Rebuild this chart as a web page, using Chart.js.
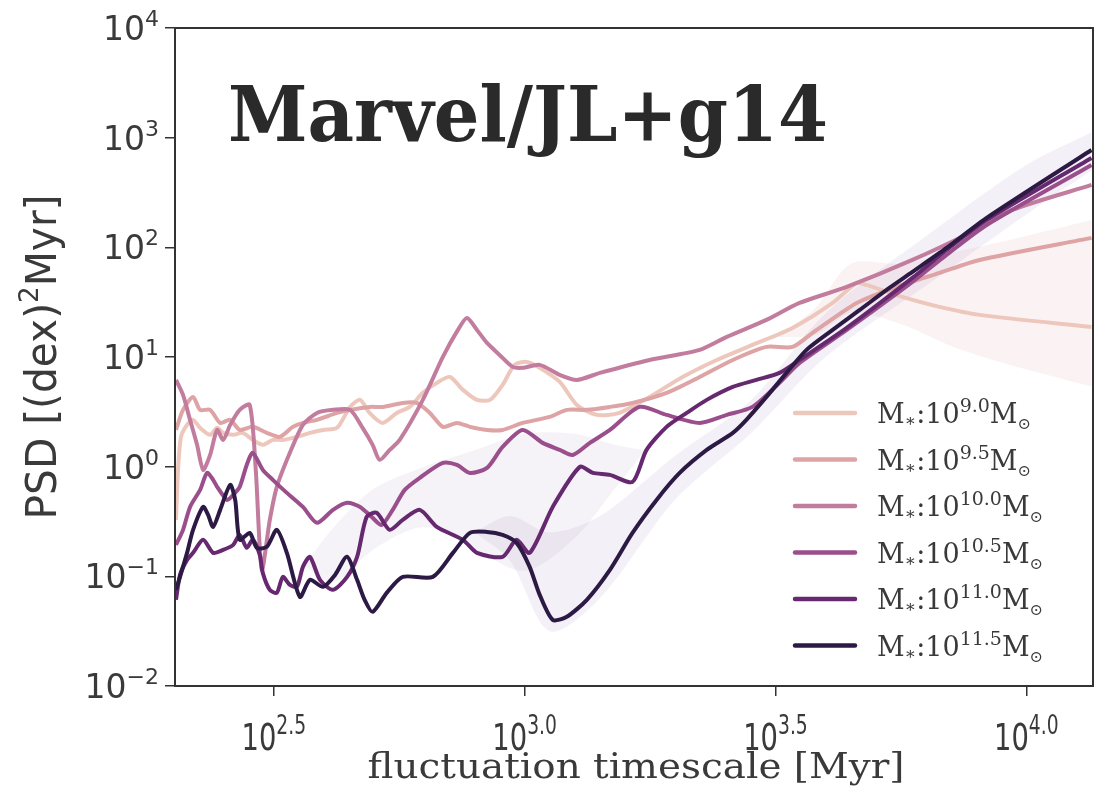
<!DOCTYPE html>
<html>
<head>
<meta charset="utf-8">
<script src="https://cdn.jsdelivr.net/npm/chart.js@4.4.1/dist/chart.umd.min.js"></script>
<style>
  html, body { margin: 0; padding: 0; background: #fff; }
  canvas { display: block; }
</style>
</head>
<body>
<canvas id="psdChart" width="1097" height="793"></canvas>
<script>
// series are [log10 timescale (Myr), log10 PSD] pairs
const massLabels = ["9.0", "9.5", "10.0", "10.5", "11.0", "11.5"];
const massColors = ["#edc7bc", "#dea3a5", "#c27c9d", "#9a4f8c", "#66296f", "#2d1a44"];

const psd90 = [[2.305,-0.485],[2.309,-0.029],[2.315,0.272],[2.327,0.381],[2.339,0.427],[2.353,0.354],[2.373,0.290],[2.387,0.354],[2.399,0.308],[2.419,0.290],[2.438,0.308],[2.458,0.244],[2.478,0.199],[2.498,0.244],[2.518,0.244],[2.546,0.272],[2.572,0.308],[2.598,0.335],[2.626,0.354],[2.652,0.545],[2.672,0.609],[2.691,0.490],[2.717,0.399],[2.745,0.490],[2.771,0.545],[2.797,0.673],[2.825,0.764],[2.851,0.818],[2.877,0.700],[2.905,0.609],[2.931,0.609],[2.956,0.745],[2.980,0.928],[3.004,0.955],[3.030,0.901],[3.070,0.773],[3.104,0.563],[3.144,0.472],[3.189,0.490],[3.249,0.636],[3.315,0.818],[3.383,0.973],[3.454,1.110],[3.534,1.265],[3.614,1.493],[3.662,1.675],[3.681,1.657],[3.753,1.548],[3.827,1.457],[3.907,1.384],[4.130,1.274]];
const psd95 = [[2.305,0.335],[2.319,0.518],[2.339,0.636],[2.353,0.518],[2.373,0.518],[2.393,0.399],[2.413,0.427],[2.432,0.335],[2.458,0.363],[2.486,0.308],[2.512,0.272],[2.538,0.363],[2.558,0.399],[2.586,0.427],[2.626,0.490],[2.652,0.518],[2.691,0.545],[2.717,0.545],[2.757,0.581],[2.785,0.581],[2.811,0.490],[2.837,0.363],[2.865,0.399],[2.891,0.363],[2.925,0.335],[2.956,0.335],[2.996,0.399],[3.050,0.454],[3.084,0.518],[3.124,0.518],[3.170,0.545],[3.215,0.581],[3.283,0.673],[3.349,0.818],[3.415,0.973],[3.482,1.092],[3.534,1.092],[3.574,1.220],[3.662,1.493],[3.741,1.639],[3.827,1.767],[3.907,1.885],[4.130,2.086]];
const psd100 = [[2.305,0.791],[2.319,0.654],[2.333,0.427],[2.347,0.199],[2.359,-0.029],[2.373,0.107],[2.387,0.335],[2.399,0.244],[2.413,0.381],[2.432,0.518],[2.452,0.563],[2.464,-0.029],[2.476,-0.941],[2.492,-0.485],[2.506,-0.184],[2.532,0.126],[2.558,0.381],[2.586,0.490],[2.618,0.518],[2.652,0.518],[2.677,0.354],[2.697,0.199],[2.711,0.062],[2.731,0.153],[2.751,0.244],[2.797,0.609],[2.837,1.001],[2.867,1.247],[2.885,1.356],[2.905,1.247],[2.925,1.128],[2.950,1.019],[2.976,0.910],[2.996,0.901],[3.030,0.928],[3.070,0.837],[3.104,0.791],[3.150,0.855],[3.249,0.973],[3.349,1.065],[3.403,1.183],[3.482,1.338],[3.548,1.493],[3.642,1.639],[3.773,1.885],[3.887,2.131],[3.972,2.341],[4.130,2.569]];
const psd105 = [[2.305,-0.713],[2.319,-0.576],[2.333,-0.367],[2.353,-0.212],[2.367,-0.057],[2.379,-0.120],[2.387,-0.184],[2.407,-0.303],[2.419,-0.257],[2.432,-0.184],[2.446,0.016],[2.458,0.126],[2.478,-0.029],[2.498,-0.120],[2.526,-0.239],[2.558,-0.367],[2.586,-0.512],[2.618,-0.394],[2.646,-0.330],[2.672,-0.367],[2.695,-0.458],[2.715,-0.531],[2.737,-0.394],[2.761,-0.212],[2.791,-0.102],[2.837,0.034],[2.865,0.016],[2.891,-0.057],[2.925,-0.011],[2.956,0.180],[2.996,0.335],[3.036,0.217],[3.070,0.153],[3.096,0.107],[3.130,0.217],[3.170,0.335],[3.229,0.545],[3.283,0.472],[3.349,0.399],[3.403,0.472],[3.454,0.545],[3.508,0.764],[3.548,0.946],[3.642,1.247],[3.773,1.685],[3.841,1.931],[3.921,2.204],[4.130,2.751]];
const psd110 = [[2.305,-1.214],[2.313,-0.987],[2.327,-0.850],[2.339,-0.786],[2.359,-0.667],[2.379,-0.786],[2.399,-0.759],[2.419,-0.713],[2.432,-0.622],[2.446,-0.740],[2.458,-0.667],[2.472,-0.804],[2.478,-0.968],[2.492,-1.123],[2.506,-1.151],[2.518,-1.005],[2.532,-1.078],[2.546,-1.096],[2.558,-0.914],[2.572,-0.822],[2.592,-1.032],[2.618,-1.123],[2.646,-1.005],[2.666,-0.822],[2.685,-0.458],[2.705,-0.421],[2.731,-0.576],[2.757,-0.485],[2.791,-0.394],[2.825,-0.549],[2.877,-0.667],[2.905,-0.786],[2.956,-0.822],[2.984,-0.667],[3.010,-0.786],[3.056,-0.367],[3.110,-0.002],[3.136,-0.057],[3.170,-0.075],[3.215,-0.139],[3.243,0.153],[3.283,0.363],[3.323,0.490],[3.363,0.609],[3.415,0.727],[3.462,0.791],[3.508,0.855],[3.548,0.973],[3.642,1.265],[3.773,1.721],[3.841,1.976],[3.921,2.250],[4.130,2.815]];
const psd115 = [[2.305,-1.123],[2.313,-1.005],[2.327,-0.786],[2.339,-0.576],[2.359,-0.367],[2.369,-0.440],[2.379,-0.549],[2.393,-0.394],[2.413,-0.166],[2.423,-0.303],[2.432,-0.667],[2.452,-0.604],[2.466,-0.740],[2.486,-0.731],[2.506,-0.576],[2.526,-0.786],[2.552,-1.187],[2.572,-1.032],[2.598,-1.096],[2.622,-0.987],[2.646,-0.822],[2.666,-1.032],[2.681,-1.214],[2.697,-1.324],[2.725,-1.151],[2.757,-1.005],[2.817,-1.005],[2.857,-0.786],[2.891,-0.604],[2.925,-0.595],[2.956,-0.622],[2.984,-0.695],[3.010,-0.914],[3.030,-1.169],[3.056,-1.397],[3.084,-1.369],[3.124,-1.214],[3.170,-0.941],[3.215,-0.604],[3.263,-0.303],[3.309,-0.057],[3.363,0.153],[3.415,0.308],[3.442,0.427],[3.482,0.636],[3.522,0.855],[3.562,1.065],[3.614,1.247],[3.668,1.429],[3.727,1.630],[3.773,1.776],[3.841,1.994],[3.921,2.268],[4.130,2.888]];
const psdSeries = [psd90, psd95, psd100, psd105, psd110, psd115];

// faint scatter bands: [log10 timescale, log10 lower, log10 upper]
const band90 = [[3.50,1.18,1.18],[3.58,1.20,1.45],[3.65,1.40,1.85],[3.75,1.30,1.85],[3.85,1.10,1.95],[3.95,0.95,2.05],[4.13,0.73,2.25]];
const band110 = [[2.56,-0.90,-0.90],[2.62,-1.05,-0.55],[2.70,-0.75,-0.20],[2.80,-0.55,0.00],[2.90,-0.75,0.15],[3.00,-0.95,0.30],[3.10,-0.65,0.30],[3.18,-0.20,0.20],[3.24,0.15,0.15]];
const band115 = [[2.90,-0.60,-0.60],[2.97,-0.85,-0.45],[3.05,-1.50,-0.60],[3.15,-1.20,-0.45],[3.30,-0.30,0.10],[3.45,0.30,0.60],[3.60,1.00,1.40],[3.80,1.65,2.10],[4.00,2.30,2.75],[4.13,2.70,3.05]];
const bandSpecs = [
  { rows: band90, color: "rgba(222, 163, 165, 0.13)" },
  { rows: band110, color: "rgba(120, 80, 140, 0.07)" },
  { rows: band115, color: "rgba(120, 90, 170, 0.09)" }
];

const xTickExps = ["2.5", "3.0", "3.5", "4.0"];
const yTickExps = ["-2", "-1", "0", "1", "2", "3", "4"];
const xRange = [2.303, 4.133];
const yRange = [-2, 4];

const INK = "#333333";
const SANS = "DejaVu Sans";
const SERIF = "DejaVu Serif";

function fontStr(p) {
  return `${p.weight || "normal"} ${p.size}px ${p.family}`;
}

function partsWidth(ctx, parts) {
  let w = 0;
  for (const p of parts) {
    ctx.font = fontStr(p);
    w += ctx.measureText(p.text).width;
  }
  return w;
}

// draws a run of text pieces (for superscripts/subscripts), sx squeezes horizontally
function drawParts(ctx, parts, x, y, align, sx = 1, color = INK) {
  const w = partsWidth(ctx, parts) * sx;
  const left = align === "center" ? x - w / 2 : align === "right" ? x - w : x;
  ctx.save();
  ctx.translate(left, y);
  ctx.scale(sx, 1);
  ctx.textBaseline = "alphabetic";
  ctx.textAlign = "left";
  ctx.fillStyle = color;
  let cx = 0;
  for (const p of parts) {
    ctx.font = fontStr(p);
    ctx.fillText(p.text, cx, p.dy || 0);
    cx += ctx.measureText(p.text).width;
  }
  ctx.restore();
}

function drawFitted(ctx, parts, x, y, align, width, color) {
  drawParts(ctx, parts, x, y, align, width / partsWidth(ctx, parts), color);
}

const decorPlugin = {
  id: "decor",
  afterDatasetsDraw(chart) {
    const { ctx, chartArea: a, scales } = chart;

    // frame
    ctx.save();
    ctx.strokeStyle = INK;
    ctx.lineWidth = 2;
    ctx.strokeRect(a.left, a.top, a.right - a.left, a.bottom - a.top);
    ctx.restore();

    // x tick labels 10^e
    xTickExps.forEach((e) => {
      const px = scales.x.getPixelForValue(Math.pow(10, Number(e)));
      drawParts(ctx, [
        { text: "10", size: 38, family: SANS },
        { text: e, size: 26, family: SANS, dy: -16 }
      ], px, 750, "center", 0.72, "#3a3a3a");
    });

    // y tick labels
    yTickExps.forEach((e) => {
      const py = scales.y.getPixelForValue(Math.pow(10, Number(e)));
      drawParts(ctx, [
        { text: "10", size: 33, family: SANS },
        { text: e.replace("-", "\u2212"), size: 22, family: SANS, dy: -14 }
      ], 159, py + 12, "right", 1, "#3a3a3a");
    });

    // axis titles
    drawFitted(ctx, [{ text: "fluctuation timescale [Myr]", size: 36, family: SERIF }], 636, 778, "center", 537, "#3a3a3a");
    ctx.save();
    ctx.translate(56, 357);
    ctx.rotate(-Math.PI / 2);
    drawFitted(ctx, [
      { text: "PSD [(dex)", size: 42, family: SANS },
      { text: "2", size: 27, family: SANS, dy: -18 },
      { text: "Myr]", size: 42, family: SANS }
    ], 0, 0, "center", 325, "#3a3a3a");
    ctx.restore();

    // panel title
    drawFitted(ctx, [{ text: "Marvel/JL+g14", size: 76, family: SERIF, weight: "bold" }], 228, 141, "left", 600, "#2a2a2a");

    // legend
    chart.data.datasets.filter((ds) => !ds.isBand).forEach((ds, i) => {
      const ry = 413 + i * 46.5;
      ctx.save();
      ctx.strokeStyle = ds.borderColor;
      ctx.lineWidth = 4.5;
      ctx.lineCap = "round";
      ctx.beginPath();
      ctx.moveTo(795, ry);
      ctx.lineTo(855, ry);
      ctx.stroke();
      ctx.restore();
      drawParts(ctx, [
        { text: "M", size: 27, family: SERIF },
        { text: "\u2217", size: 17, family: SERIF, dy: 3 },
        { text: ":10", size: 27, family: SERIF },
        { text: ds.label, size: 19, family: SERIF, dy: -11 },
        { text: "M", size: 27, family: SERIF },
        { text: "\u2299", size: 16, family: SERIF, dy: 6 }
      ], 877, ry + 10, "left", 1.0, "#3a3a3a");
    });
  }
};

const lineSets = psdSeries.map((series, i) => ({
  label: massLabels[i],
  data: series.map(([lt, lp]) => ({ x: Math.pow(10, lt), y: Math.pow(10, lp) })),
  borderColor: massColors[i],
  borderWidth: 4,
  pointRadius: 0,
  tension: 0.25,
  fill: false,
  order: 5 - i
}));

const bandSets = [];
bandSpecs.forEach((b) => {
  bandSets.push({
    isBand: true,
    data: b.rows.map(([lt, lo]) => ({ x: Math.pow(10, lt), y: Math.pow(10, lo) })),
    borderWidth: 0,
    pointRadius: 0,
    tension: 0.3,
    fill: false,
    order: 20
  });
  bandSets.push({
    isBand: true,
    data: b.rows.map(([lt, , hi]) => ({ x: Math.pow(10, lt), y: Math.pow(10, hi) })),
    borderWidth: 0,
    pointRadius: 0,
    tension: 0.3,
    backgroundColor: b.color,
    fill: "-1",
    order: 20
  });
});

new Chart(document.getElementById("psdChart").getContext("2d"), {
  type: "line",
  data: { datasets: [...bandSets, ...lineSets] },
  options: {
    responsive: false,
    animation: false,
    devicePixelRatio: 1,
    layout: { padding: { top: 28, right: 4, left: 0, bottom: 0 } },
    plugins: { legend: { display: false }, tooltip: { enabled: false } },
    scales: {
      x: {
        type: "logarithmic",
        min: Math.pow(10, xRange[0]),
        max: Math.pow(10, xRange[1]),
        afterBuildTicks(scale) {
          scale.ticks = xTickExps.map((e) => ({ value: Math.pow(10, Number(e)) }));
        },
        afterFit(scale) { scale.height = 107; },
        ticks: { display: false },
        border: { display: false },
        grid: { drawOnChartArea: false, drawTicks: true, tickLength: 10, color: INK, lineWidth: 1.5 }
      },
      y: {
        type: "logarithmic",
        min: Math.pow(10, yRange[0]),
        max: Math.pow(10, yRange[1]),
        afterBuildTicks(scale) {
          scale.ticks = yTickExps.map((e) => ({ value: Math.pow(10, Number(e)) }));
        },
        afterFit(scale) { scale.width = 175; },
        ticks: { display: false },
        border: { display: false },
        grid: { drawOnChartArea: false, drawTicks: true, tickLength: 10, color: INK, lineWidth: 1.5 }
      }
    }
  },
  plugins: [decorPlugin]
});
</script>
</body>
</html>
